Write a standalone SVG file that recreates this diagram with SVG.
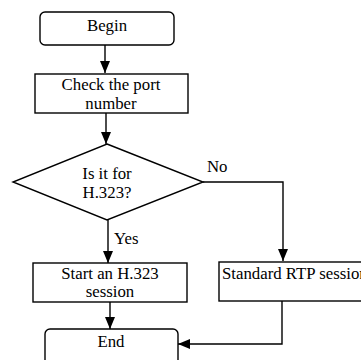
<svg xmlns="http://www.w3.org/2000/svg" width="361" height="360" viewBox="0 0 361 360">
<style>
.box{fill:#fff;stroke:#000;stroke-width:1.4}
.ln{fill:none;stroke:#000;stroke-width:1.4}
text{font-family:"Liberation Serif","Times New Roman",serif;font-size:16.8px;fill:#000}
.c{text-anchor:middle}
</style>
<defs>
<marker id="ah" viewBox="0 0 12 10" refX="12" refY="5" markerWidth="12" markerHeight="10" markerUnits="userSpaceOnUse" orient="auto">
<path d="M0,0 L12,5 L0,10 Z" fill="#000"/>
</marker>
</defs>
<rect width="361" height="360" fill="#fff"/>
<g id="connectors">
<path class="ln" d="M105,45 V73" marker-end="url(#ah)"/>
<path class="ln" d="M106,113 V144" marker-end="url(#ah)"/>
<path class="ln" d="M203,182 H283 V261" marker-end="url(#ah)"/>
<path class="ln" d="M108,220 V263" marker-end="url(#ah)"/>
<path class="ln" d="M110,302 V329" marker-end="url(#ah)"/>
<path class="ln" d="M282,301 V344 H178" marker-end="url(#ah)"/>
<text x="207" y="172">No</text>
<text x="114" y="244">Yes</text>
</g>
<g id="begin">
<rect class="box" x="40" y="12" width="134" height="33" rx="5"/>
<text class="c" x="107" y="31">Begin</text>
</g>
<g id="check">
<rect class="box" x="35" y="74" width="153" height="39"/>
<text class="c" x="111" y="90">Check the port</text>
<text class="c" x="111" y="109">number</text>
</g>
<g id="decision">
<path class="box" d="M107,144 L203,182 L107,220 L13,182 Z"/>
<text class="c" x="107" y="179">Is it for</text>
<text class="c" x="107" y="198">H.323?</text>
</g>
<g id="start">
<rect class="box" x="33" y="263" width="154" height="39"/>
<text class="c" x="110" y="279">Start an H.323</text>
<text class="c" x="110" y="297">session</text>
</g>
<g id="standard">
<rect class="box" x="219" y="262" width="160" height="39"/>
<text x="222" y="279">Standard RTP session</text>
</g>
<g id="end">
<rect class="box" x="45" y="329" width="133" height="40" rx="5"/>
<text class="c" x="111" y="347">End</text>
</g>
</svg>
